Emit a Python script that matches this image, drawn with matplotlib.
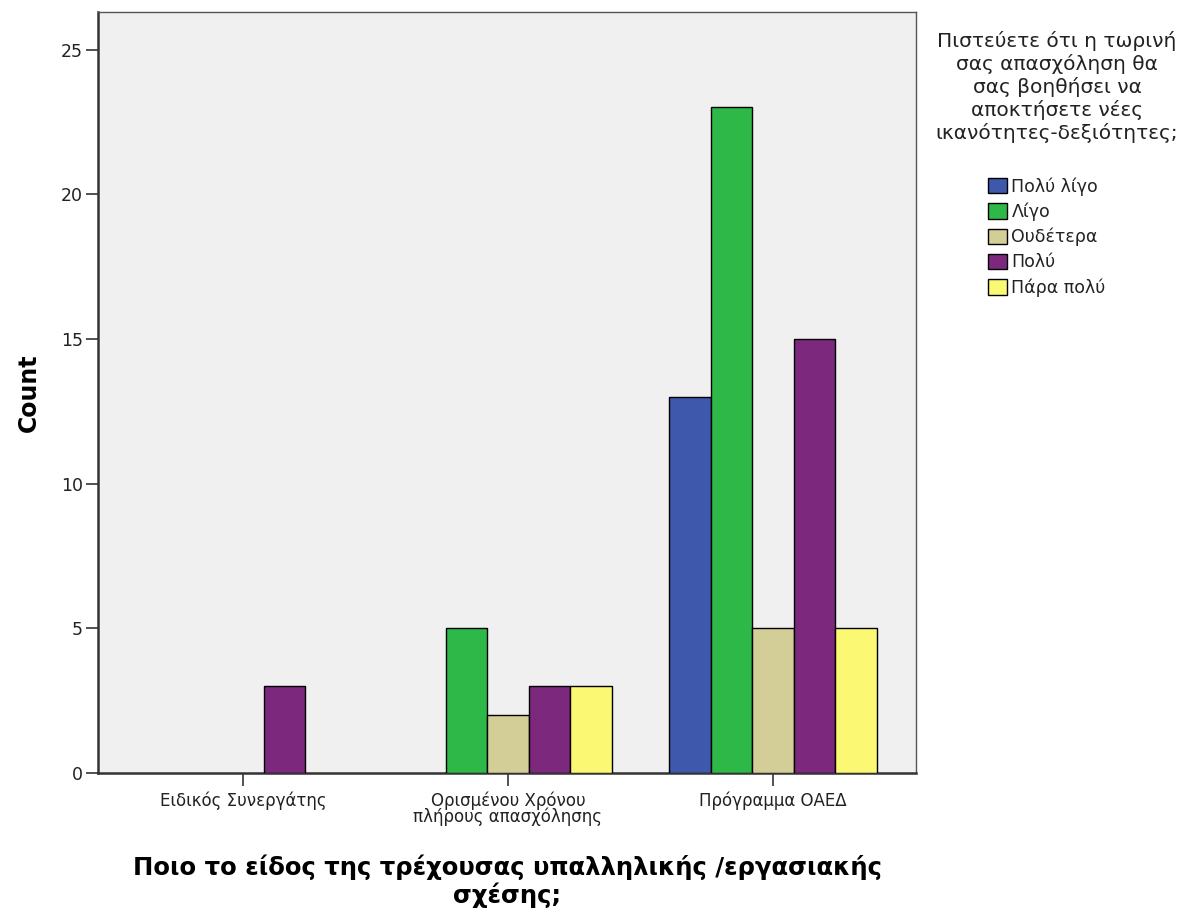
import numpy as np
import matplotlib
matplotlib.use("Agg")
import matplotlib.pyplot as plt
from matplotlib.patches import Patch

plt.rcParams['font.family'] = ['DejaVu Sans']

# Employment type categories (x axis)
categories = ["Ειδικός Συνεργάτης", "Ορισμένου Χρόνου\nπλήρους απασχόλησης", "Πρόγραμμα ΟΑΕΔ"]

# Response levels (legend)
levels = ["Πολύ λίγο", "Λίγο", "Ουδέτερα", "Πολύ", "Πάρα πολύ"]
level_colors = ["#3E58AC", "#2EB848", "#D3CE97", "#7C287D", "#FBF873"]

# Counts per level, one value per category
counts_poly_ligo = [0, 0, 13]
counts_ligo = [0, 5, 23]
counts_oudetera = [0, 2, 5]
counts_poly = [3, 3, 15]
counts_para_poly = [0, 3, 5]

y_ticks = [0, 5, 10, 15, 20, 25]

series = [counts_poly_ligo, counts_ligo, counts_oudetera, counts_poly, counts_para_poly]

fig = plt.figure(figsize=(11.89, 9.14), dpi=100)
ax = fig.add_axes([0.0824, 0.1543, 0.688, 0.8326])
ax.set_facecolor("#F0F0F0")

x = np.arange(len(categories))
width = 0.157
n = len(series)
for i, (vals, col) in enumerate(zip(series, level_colors)):
    vals = np.asarray(vals, dtype=float)
    mask = vals > 0
    offs = (i - (n - 1) / 2) * width
    ax.bar(x[mask] + offs, vals[mask], width=width, color=col,
           edgecolor="black", linewidth=1.0, zorder=3)

ax.set_xlim(-0.547, 2.54)
ax.set_ylim(0, 26.3)
ax.set_yticks(y_ticks)
ax.set_xticks(x)
ax.set_xticklabels(categories, fontsize=12, linespacing=0.88)
ax.tick_params(axis='y', labelsize=12.5, length=9, width=1.2, color="#333333", pad=2,
               labelcolor="#222222")
ax.tick_params(axis='x', length=9, width=1.2, color="#333333", pad=4,
               labelcolor="#222222")

for side in ("left", "bottom"):
    ax.spines[side].set_linewidth(1.8)
    ax.spines[side].set_color("#333333")
for side in ("top", "right"):
    ax.spines[side].set_linewidth(1.0)
    ax.spines[side].set_color("#555555")

ax.set_ylabel("Count", fontsize=17, fontweight="bold", labelpad=14)
ax.set_xlabel("Ποιο το είδος της τρέχουσας υπαλληλικής /εργασιακής\nσχέσης;",
              fontsize=17.5, fontweight="bold", labelpad=20, linespacing=1.15)

# Legend title drawn on its own, centred above the swatches
fig.text(1057 / 1189, 1 - 31 / 914,
         "Πιστεύετε ότι η τωρινή\nσας απασχόληση θα\nσας βοηθήσει να\nαποκτήσετε νέες\nικανότητες-δεξιότητες;",
         ha="center", va="top", multialignment="center", fontsize=14.5,
         linespacing=1.18, color="#222222")

handles = [Patch(facecolor=c, edgecolor="black", linewidth=1.0) for c in level_colors]
leg = fig.legend(handles, levels, loc="upper left", bbox_to_anchor=(988 / 1189, 1 - 177 / 914),
                 fontsize=12.5, frameon=False, borderpad=0, borderaxespad=0,
                 handlelength=1.1, handleheight=1.0, handletextpad=0.25,
                 labelspacing=0.4)
for t in leg.get_texts():
    t.set_color("#222222")

fig.savefig("out.png", dpi=100, facecolor="white")
